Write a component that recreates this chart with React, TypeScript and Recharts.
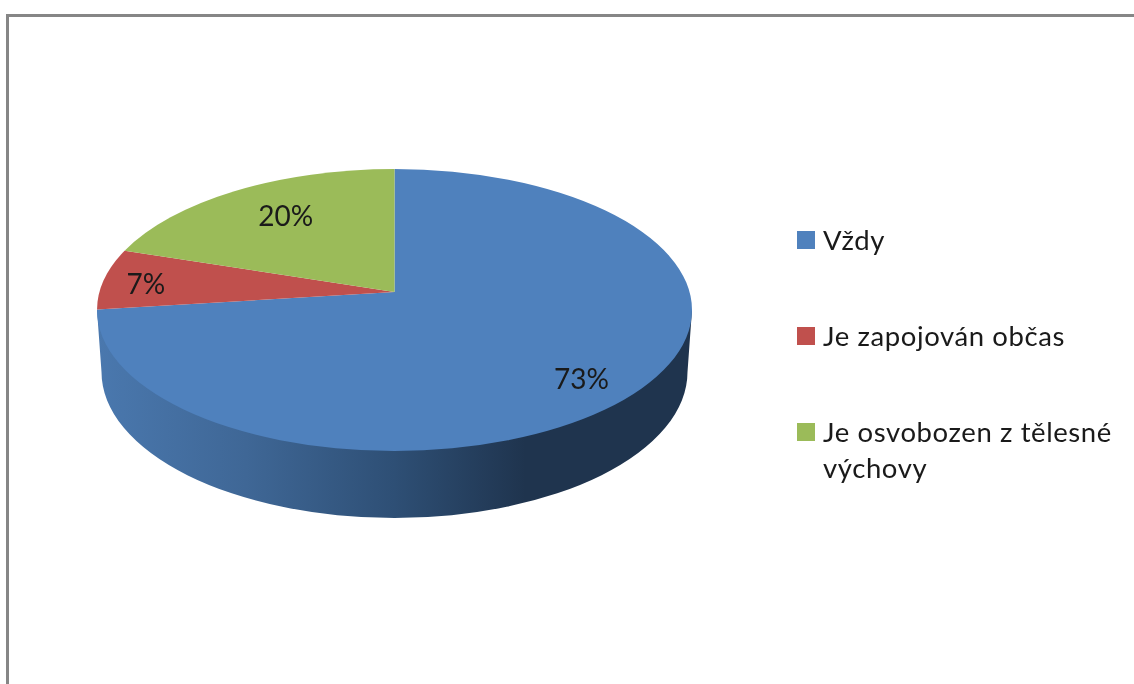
import { PieChart, Pie, Legend } from "recharts";

const categories = ["Vždy", "Je zapojován občas", "Je osvobozen z tělesné výchovy"];
const shares = [73, 7, 20];
const colors = ["#4f81bd", "#c0504d", "#9bbb59"];

const tableData = categories.map((name, i) => ({ name, value: shares[i], fill: colors[i] }));

const FONT = "Lato, sans-serif";
const RX = 297.5;
const RY = 141;
// the apex sits above the ellipse centre because of the 3D perspective
const TILT = 0.128;
const DEPTH = 62;
const LABEL_RADIUS = [0.82, 0.84, 0.72];
const LABEL_NUDGE = [[-8, 5], [-4.5, 2], [7.5, -2]];

// point on the tilted disc, angle in recharts degrees (90 = top, clockwise going down), r from 0 to 1
function project(cx: number, cy: number, angle: number, r: number) {
  const a = (angle * Math.PI) / 180;
  const u = r * Math.cos(a);
  const v = r * Math.sin(a);
  const d = 1 + TILT * v;
  return {
    x: cx + (RX * u * Math.sqrt(1 - TILT * TILT)) / d,
    y: cy - (RY * (v + TILT)) / d,
  };
}

function Slice(props: any) {
  const { cx, cy, startAngle, endAngle, fill, index } = props;
  const apex = project(cx, cy, 0, 0);
  const p1 = project(cx, cy, startAngle, 1);
  const p2 = project(cx, cy, endAngle, 1);
  const phi1 = Math.atan2(p1.x - cx, (cy - p1.y) * (RX / RY));
  const phi2 = Math.atan2(p2.x - cx, (cy - p2.y) * (RX / RY));
  const delta = ((phi2 - phi1) * 180) / Math.PI;
  const large = (delta + 360) % 360 > 180 ? 1 : 0;
  const top = `M${apex.x},${apex.y} L${p1.x},${p1.y} A${RX},${RY} 0 ${large} 1 ${p2.x},${p2.y} Z`;
  // only the big slice shows its side wall
  const rxLow = RX - 4.5;
  const wall = `M${cx - RX},${cy} L${cx - rxLow},${cy + DEPTH} A${rxLow},146 0 0 0 ${cx + rxLow},${cy + DEPTH} L${cx + RX},${cy} Z`;
  return (
    <g>
      {index === 0 && <path d={wall} fill="url(#wallFill)" stroke="none" />}
      <path d={top} fill={fill} stroke="none" />
    </g>
  );
}

function renderLabel(props: any) {
  const { cx, cy, midAngle, value, index } = props;
  const p = project(cx, cy, midAngle, LABEL_RADIUS[index]);
  return (
    <text
      x={p.x + LABEL_NUDGE[index][0]}
      y={p.y + LABEL_NUDGE[index][1]}
      textAnchor="middle"
      dominantBaseline="central"
      fontFamily={FONT}
      fontSize={28}
      fill="#1a1a1a"
      style={{ filter: "blur(0.4px)" }}
    >
      {value}%
    </text>
  );
}

function LegendList(props: any) {
  const { payload } = props;
  return (
    <div style={{ width: 320, fontFamily: FONT, fontSize: 27.5, lineHeight: "36px", color: "#1a1a1a", letterSpacing: 0.6 }}>
      {(payload || []).map((p: any) => (
        <div key={p.value} style={{ position: "relative", paddingLeft: 26, marginBottom: 60 }}>
          <span style={{ position: "absolute", left: 0, top: 9, width: 18, height: 18, background: p.color }} />
          <span style={{ filter: "blur(0.4px)" }}>{p.value}</span>
        </div>
      ))}
    </div>
  );
}

export default function App() {
  return (
    <div style={{ position: "absolute", left: 0, top: 0, width: 1134, height: 684, background: "#fff", overflow: "hidden" }}>
      <div style={{ position: "absolute", left: 6, top: 14, right: 0, bottom: 0, borderTop: "3px solid #868686", borderLeft: "3px solid #868686" }} />
      <PieChart width={1134} height={684} margin={{ top: 0, right: 0, bottom: 0, left: 0 }} style={{ position: "absolute", left: 0, top: 0 }}>
        <defs>
          <linearGradient id="wallFill" x1="0" y1="0" x2="1" y2="0">
            <stop offset="0" stopColor="#4a78ae" />
            <stop offset="0.25" stopColor="#3f6796" />
            <stop offset="0.5" stopColor="#2e4f75" />
            <stop offset="0.72" stopColor="#1f344e" />
            <stop offset="1" stopColor="#1f344e" />
          </linearGradient>
        </defs>
        <Pie
          data={tableData}
          dataKey="value"
          nameKey="name"
          cx={394.5}
          cy={310}
          outerRadius={RX}
          startAngle={90}
          endAngle={-270}
          shape={Slice}
          label={renderLabel}
          labelLine={false}
          isAnimationActive={false}
        />
        <Legend
          layout="vertical"
          align="right"
          verticalAlign="middle"
          itemSorter={null}
          content={LegendList}
          wrapperStyle={{ left: 797, top: 222, right: "auto", bottom: "auto", width: 330 }}
        />
      </PieChart>
    </div>
  );
}
